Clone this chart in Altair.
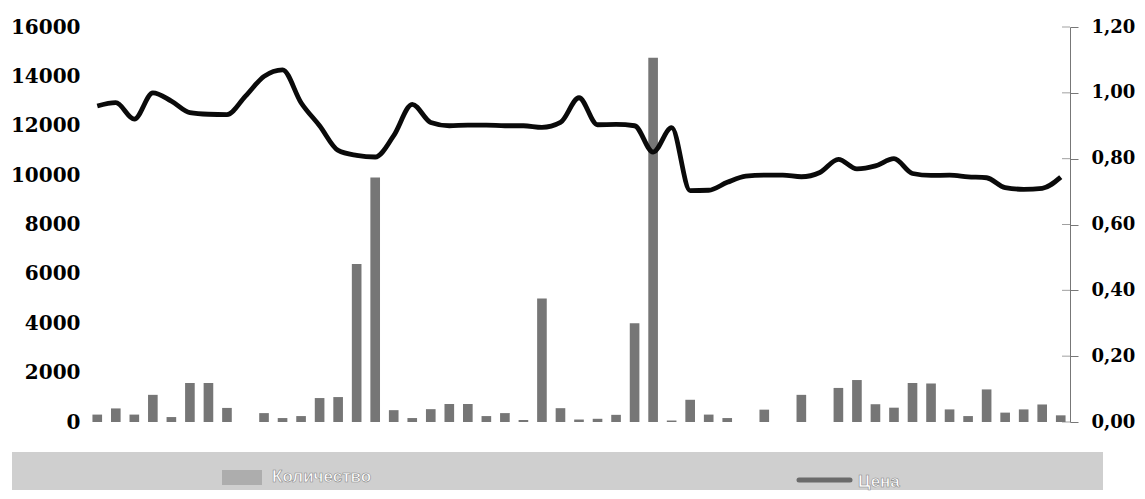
import altair as alt
import pandas as pd

# ---- data ----
days = list(range(1, 54))
quantity = [300, 550, 300, 1100, 200, 1580, 1580, 570, None, 360, 160, 240, 970, 1010,
            6400, 9900, 480, 160, 520, 730, 730, 240, 360, 80, 5000, 560, 100, 130, 290,
            4000, 14750, 60, 900, 300, 160, None, 500, None, 1100, None, 1380, 1700, 720,
            580, 1580, 1560, 510, 240, 1320, 380, 510, 710, 270]
price = [0.96, 0.97, 0.92, 1.00, 0.975, 0.94, 0.935, 0.934, 0.99, 1.05, 1.07, 0.97, 0.90,
         0.825, 0.81, 0.805, 0.87, 0.965, 0.91, 0.90, 0.902, 0.902, 0.90, 0.90, 0.895, 0.91,
         0.985, 0.903, 0.904, 0.90, 0.82, 0.894, 0.703, 0.704, 0.728, 0.747, 0.75, 0.75,
         0.745, 0.758, 0.798, 0.769, 0.778, 0.80, 0.755, 0.749, 0.75, 0.745, 0.742, 0.712,
         0.707, 0.71, 0.744]
qty_ticks = [0, 2000, 4000, 6000, 8000, 10000, 12000, 14000, 16000]
price_ticks = [0.0, 0.2, 0.4, 0.6, 0.8, 1.0, 1.2]
legend_qty = ["Количество"]
legend_price = ["Цена"]

df = pd.DataFrame({"day": days, "qty": quantity, "price": price})

W, H = 982, 395
FONT = "DejaVu Serif"

xenc = alt.X("day:O", axis=None,
             scale=alt.Scale(paddingInner=0.48, paddingOuter=0.24))

bars = alt.Chart(df).mark_bar(color="#767676").encode(
    x=xenc,
    y=alt.Y("qty:Q",
            scale=alt.Scale(domain=[0, 16000]),
            axis=alt.Axis(values=qty_ticks, format="d", title=None, domain=False,
                          ticks=False, grid=False, labelPadding=8,
                          labelFont=FONT, labelFontWeight="bold", labelFontSize=20,
                          labelColor="#000")),
)

price_axis = alt.Axis(orient="right", values=price_ticks, title=None, grid=False,
                      labelExpr="replace(format(datum.value, '.2f'), '.', ',')",
                      domainColor="#777", tickColor="#777", tickSize=8,
                      labelPadding=13, labelFont=FONT, labelFontWeight="bold",
                      labelFontSize=18, labelColor="#000")
price_scale = alt.Scale(domain=[0, 1.2])

line = alt.Chart(df).mark_line(color="#0a0a0a", strokeWidth=4.8,
                               interpolate="monotone").encode(
    x=xenc,
    y=alt.Y("price:Q", scale=price_scale, axis=price_axis),
)

inner_ticks = alt.Chart(pd.DataFrame({"price": price_ticks})).mark_tick(
    color="#777", thickness=1, size=8, orient="horizontal").encode(
    x=alt.value(W - 4),
    y=alt.Y("price:Q", scale=price_scale, axis=price_axis),
)

right = alt.layer(line, inner_ticks)

# ---- legend band ----
band = alt.Chart(pd.DataFrame({"a": [0]})).mark_rect(color="#cfcfcf").encode(
    x=alt.value(-76), x2=alt.value(1015), y=alt.value(425), y2=alt.value(463))
sq = alt.Chart(pd.DataFrame({"a": [0]})).mark_rect(color="#adadad").encode(
    x=alt.value(134), x2=alt.value(174), y=alt.value(443), y2=alt.value(458))
lsym = alt.Chart(pd.DataFrame({"a": [0]})).mark_rule(
    color="#6b6b6b", strokeWidth=5, strokeCap="round").encode(
    x=alt.value(711), x2=alt.value(762), y=alt.value(453))
t1 = alt.Chart(pd.DataFrame({"label": legend_qty})).mark_text(
    align="left", baseline="middle", color="#ffffff", stroke="#8a8a8a", strokeWidth=0.6,
    font="Liberation Sans", fontWeight="bold", fontSize=17).encode(
    x=alt.value(184), y=alt.value(450), text="label:N")
t2 = alt.Chart(pd.DataFrame({"label": legend_price})).mark_text(
    align="left", baseline="middle", color="#ffffff", stroke="#8a8a8a", strokeWidth=0.6,
    font="Liberation Sans", fontWeight="bold", fontSize=17).encode(
    x=alt.value(770), y=alt.value(455), text="label:N")

legend = alt.layer(band, sq, lsym, t1, t2)

chart = alt.layer(legend, bars, right).resolve_scale(y="independent").properties(
    width=W, height=H,
    background="#ffffff",
    autosize=alt.AutoSizeParams(type="none"),
    padding={"left": 80, "top": 19, "right": 67, "bottom": 69},
).configure_view(stroke="transparent", strokeWidth=0)

chart.save("out.html", embed_options={"renderer": "svg", "actions": False})
